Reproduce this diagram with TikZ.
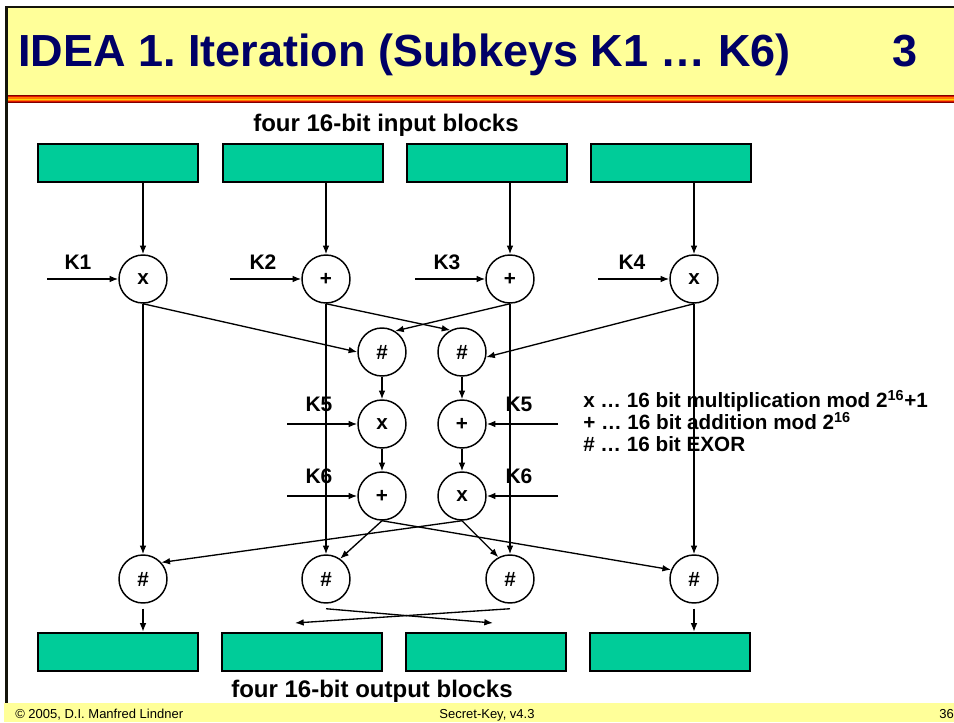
\documentclass[tikz,border=0pt]{standalone}
\usepackage{fontspec}
\setmainfont{Liberation Sans}
\usetikzlibrary{arrows.meta}
\frenchspacing

\definecolor{slideyellow}{RGB}{255,255,153}
\definecolor{titleblue}{RGB}{0,0,102}
\definecolor{blockgreen}{RGB}{0,204,153}
\definecolor{framegray}{RGB}{20,20,10}
\definecolor{bandA}{RGB}{128,0,0}
\definecolor{bandB}{RGB}{220,20,0}
\definecolor{bandC}{RGB}{255,120,0}
\definecolor{bandD}{RGB}{255,210,0}

\begin{document}
\begin{tikzpicture}[x=0.75pt,y=-0.75pt,
  op/.style={circle,draw=black,line width=1.1pt,fill=white,minimum size=36pt,
    inner sep=0pt,font=\fontsize{15.5}{18}\selectfont\bfseries},
  block/.style={draw=black,line width=1.8pt,fill=blockgreen,minimum width=120pt,
    minimum height=28.5pt,inner sep=0pt},
  wire/.style={line width=1pt,-{Latex[length=6.5pt,width=5pt]}},
  klabel/.style={font=\fontsize{15.75}{18}\selectfont\bfseries},
  legend/.style={anchor=base west,inner sep=0pt,font=\fontsize{15.5}{18}\selectfont\bfseries},
  caption/.style={anchor=base,inner sep=0pt,font=\fontsize{18}{21}\selectfont\bfseries},
  foot/.style={anchor=base west,inner sep=0pt,font=\fontsize{9.75}{12}\selectfont}]

\useasboundingbox (0,0) rectangle (954,722);
\fill[white] (0,0) rectangle (954,722);

% slide frame and title band
\fill[slideyellow] (7,7) rectangle (954,95);
\fill[slideyellow] (4,703) rectangle (954,722);
\fill[bandA] (7,95) rectangle (954,96.2);
\fill[bandB] (7,96.2) rectangle (954,97.4);
\fill[bandC] (7,97.4) rectangle (954,98.6);
\fill[bandD] (7,98.6) rectangle (954,99.8);
\fill[bandC] (7,99.8) rectangle (954,101);
\fill[bandB] (7,101) rectangle (954,102.2);
\fill[bandA] (7,102.2) rectangle (954,103.4);
\fill[framegray] (5,6) rectangle (954,8);
\fill[framegray] (5,6) rectangle (8,703);

% title
\node[anchor=base west,inner sep=0pt,text=titleblue,font=\fontsize{33.75}{40}\selectfont\bfseries]
  (title) at (18,66) {IDEA 1. Iteration (Subkeys K1 … K6)};
\node[anchor=base east,inner sep=0pt,text=titleblue,font=\fontsize{33.75}{40}\selectfont\bfseries]
  (num) at (918,66) {3};

% captions
\node[caption] (incap) at (386,131) {four 16-bit input blocks};
\node[caption] (outcap) at (372,697) {four 16-bit output blocks};

% input and output blocks
\node[block] (t1) at (118,163) {};
\node[block] (t2) at (303,163) {};
\node[block] (t3) at (487,163) {};
\node[block] (t4) at (671,163) {};
\node[block] (o1) at (118,652) {};
\node[block] (o2) at (302,652) {};
\node[block] (o3) at (486,652) {};
\node[block] (o4) at (670,652) {};

% first layer of operations
\node[op] (c1) at (143,279) {x};
\node[op] (c2) at (326,279) {+};
\node[op] (c3) at (510,279) {+};
\node[op] (c4) at (694,279) {x};

% MA structure
\node[op] (hA) at (382,352) {\#};
\node[op] (hB) at (462,352) {\#};
\node[op] (m5) at (382,424) {x};
\node[op] (a5) at (462,424) {+};
\node[op] (a6) at (382,496) {+};
\node[op] (m6) at (462,496) {x};

% output layer
\node[op] (b1) at (143,579) {\#};
\node[op] (b2) at (326,579) {\#};
\node[op] (b3) at (510,579) {\#};
\node[op] (b4) at (694,579) {\#};

% subkey labels
\node[klabel] (k1) at (78,262) {K1};
\node[klabel] (k2) at (263,262) {K2};
\node[klabel] (k3) at (447,262) {K3};
\node[klabel] (k4) at (632,262) {K4};
\node[klabel] (k5l) at (319,404) {K5};
\node[klabel] (k5r) at (519,404) {K5};
\node[klabel] (k6l) at (319,476) {K6};
\node[klabel] (k6r) at (519,476) {K6};

% subkey feed points
\coordinate (k1in) at (47,279);
\coordinate (k2in) at (230,279);
\coordinate (k3in) at (415,279);
\coordinate (k4in) at (598,279);
\coordinate (k5lin) at (287,424);
\coordinate (k5rin) at (558,424);
\coordinate (k6lin) at (287,496);
\coordinate (k6rin) at (558,496);
\coordinate (x2end) at (493,623);
\coordinate (x3end) at (295,623);

% legend
\node[legend] (l1) at (583,407) {x … 16 bit multiplication mod 2\textsuperscript{16}+1};
\node[legend] (l2) at (583,429) {+ … 16 bit addition mod 2\textsuperscript{16}};
\node[legend] (l3) at (583,451) {\# … 16 bit EXOR};

% blocks into the first layer, first layer down to the output layer
\foreach \i in {1,...,4} {
  \draw[wire] (t\i.south -| c\i) -- (c\i);
  \draw[wire] (c\i) -- (b\i);
}

% subkeys
\draw[wire] (k1in) -- (c1);
\draw[wire] (k2in) -- (c2);
\draw[wire] (k3in) -- (c3);
\draw[wire] (k4in) -- (c4);
\draw[wire] (k5lin) -- (m5);
\draw[wire] (k5rin) -- (a5);
\draw[wire] (k6lin) -- (a6);
\draw[wire] (k6rin) -- (m6);

% into the MA structure
\draw[wire] (c1.south) -- (hA.west);
\draw[wire] (c3.south) -- (hA.58);
\draw[wire] (c2.south) -- (hB.118);
\draw[wire] (c4.south) -- (hB.-12);
\draw[wire] (hA) -- (m5);
\draw[wire] (hB) -- (a5);
\draw[wire] (m5) -- (a6);
\draw[wire] (a5) -- (m6);

% out of the MA structure
\draw[wire] (a6.south) -- (b2.55);
\draw[wire] (a6.south) -- (b4.158);
\draw[wire] (m6.south) -- (b1.42);
\draw[wire] (m6.south) -- (b3.118);

% into the output blocks
\draw[wire] ([yshift=-3.75pt]b1.south) -- (o1.north -| b1);
\draw[wire] ([yshift=-3.75pt]b4.south) -- (o4.north -| b4);
\draw[wire] ([yshift=-3.75pt]b2.south) -- (x2end);
\draw[wire] ([yshift=-3.75pt]b3.south) -- (x3end);

% footer
\node[foot] (f1) at (15,718) {© 2005, D.I. Manfred Lindner};
\node[anchor=base,inner sep=0pt,font=\fontsize{9.75}{12}\selectfont] (f2) at (487,718) {Secret-Key, v4.3};
\node[foot] (f3) at (939,718) {36};
\end{tikzpicture}
\end{document}
